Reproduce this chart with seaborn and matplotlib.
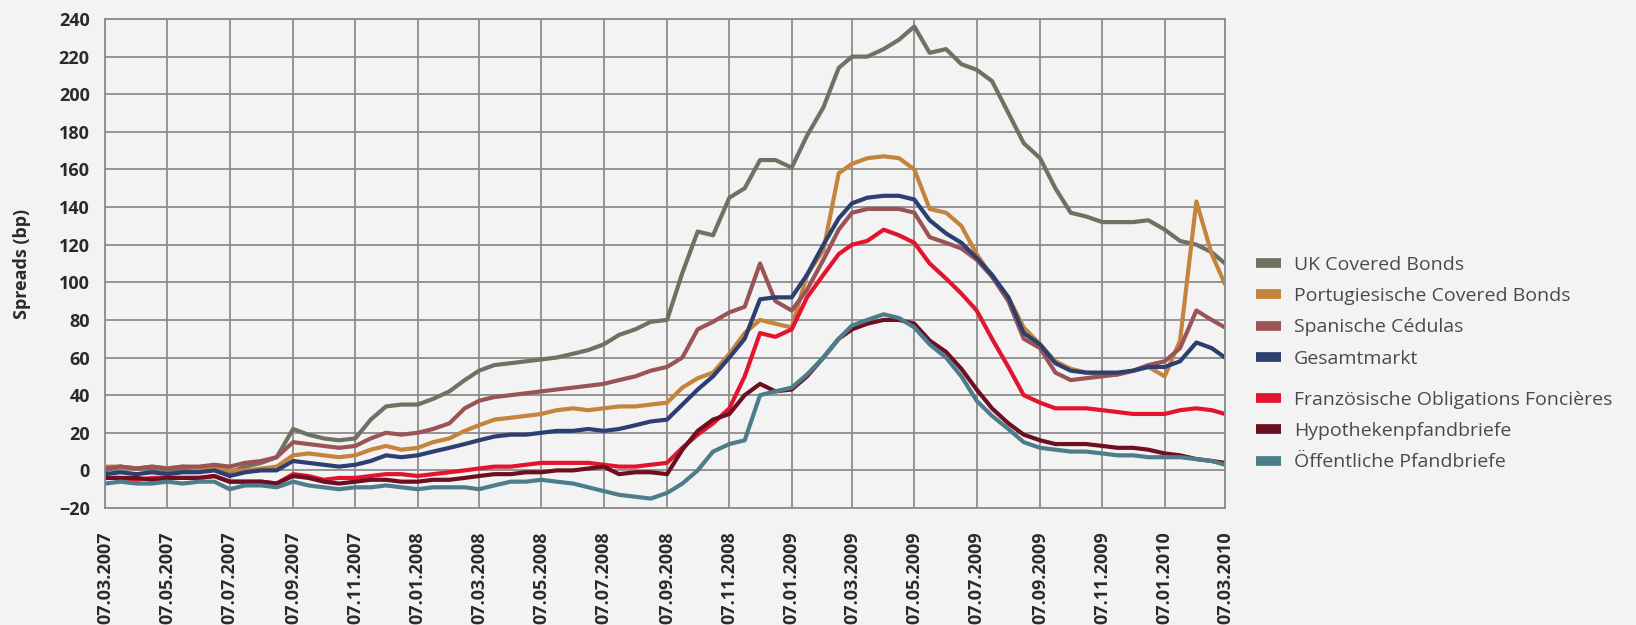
import pandas as pd
import matplotlib
matplotlib.use("Agg")
import matplotlib.pyplot as plt
import matplotlib.dates as mdates
from matplotlib.lines import Line2D
import seaborn as sns

# readings on the 7th and 22nd of each month, 07.03.2007 .. 07.03.2010
month_starts = pd.date_range("2007-03-01", "2010-03-01", freq="MS")
dates = [d + pd.Timedelta(days=k) for d in month_starts for k in (6, 21)][:-1]

uk = [0, 2, 1, 1, 0, 1, 0, 1, -1, 2, 4, 7,
      22, 19, 17, 16, 17, 27, 34, 35, 35, 38, 42, 48,
      53, 56, 57, 58, 59, 60, 62, 64, 67, 72, 75, 79,
      80, 105, 127, 125, 145, 150, 165, 165, 161, 178, 193, 214,
      220, 220, 224, 229, 236, 222, 224, 216, 213, 207, 190, 174,
      166, 150, 137, 135, 132, 132, 132, 133, 128, 122, 120, 116,
      110]
portugal = [2, 2, 1, 2, 1, 2, 1, 2, 0, 0, 1, 2,
            8, 9, 8, 7, 8, 11, 13, 11, 12, 15, 17, 21,
            24, 27, 28, 29, 30, 32, 33, 32, 33, 34, 34, 35,
            36, 44, 49, 52, 62, 73, 80, 78, 76, 104, 117, 158,
            163, 166, 167, 166, 160, 139, 137, 130, 115, 103, 92, 76,
            67, 58, 54, 52, 51, 51, 53, 55, 50, 69, 143, 115,
            99]
spain = [1, 2, 1, 2, 1, 2, 2, 3, 2, 4, 5, 7,
         15, 14, 13, 12, 13, 17, 20, 19, 20, 22, 25, 33,
         37, 39, 40, 41, 42, 43, 44, 45, 46, 48, 50, 53,
         55, 60, 75, 79, 84, 87, 110, 90, 85, 96, 112, 128,
         137, 139, 139, 139, 137, 124, 121, 118, 112, 103, 90, 70,
         65, 52, 48, 49, 50, 51, 53, 56, 58, 65, 85, 80,
         76]
total = [-2, -1, -2, -1, -2, -1, -1, 0, -3, -1, 0, 0,
         5, 4, 3, 2, 3, 5, 8, 7, 8, 10, 12, 14,
         16, 18, 19, 19, 20, 21, 21, 22, 21, 22, 24, 26,
         27, 35, 43, 50, 60, 70, 91, 92, 92, 104, 120, 134,
         142, 145, 146, 146, 144, 133, 126, 121, 113, 104, 92, 73,
         67, 57, 53, 52, 52, 52, 53, 55, 55, 58, 68, 65,
         60]
france = [-4, -4, -5, -4, -4, -4, -4, -3, -6, -6, -6, -7,
          -2, -3, -5, -4, -4, -3, -2, -2, -3, -2, -1, 0,
          1, 2, 2, 3, 4, 4, 4, 4, 3, 2, 2, 3,
          4, 12, 19, 25, 33, 50, 73, 71, 75, 92, 104, 115,
          120, 122, 128, 125, 121, 110, 102, 94, 85, 70, 55, 40,
          36, 33, 33, 33, 32, 31, 30, 30, 30, 32, 33, 32,
          30]
mortgage = [-4, -4, -4, -5, -4, -4, -4, -3, -6, -6, -6, -7,
            -3, -4, -6, -7, -6, -5, -5, -6, -6, -5, -5, -4,
            -3, -2, -2, -1, -1, 0, 0, 1, 2, -2, -1, -1,
            -2, 11, 21, 27, 30, 40, 46, 42, 43, 50, 60, 70,
            75, 78, 80, 80, 78, 69, 63, 54, 43, 33, 25, 19,
            16, 14, 14, 14, 13, 12, 12, 11, 9, 8, 6, 5,
            4]
public = [-7, -6, -7, -7, -6, -7, -6, -6, -10, -8, -8, -9,
          -6, -8, -9, -10, -9, -9, -8, -9, -10, -9, -9, -9,
          -10, -8, -6, -6, -5, -6, -7, -9, -11, -13, -14, -15,
          -12, -7, 0, 10, 14, 16, 40, 42, 44, 51, 60, 70,
          77, 80, 83, 81, 76, 67, 60, 50, 37, 29, 22, 15,
          12, 11, 10, 10, 9, 8, 8, 7, 7, 7, 6, 5,
          3]

names = ["UK Covered Bonds", "Portugiesische Covered Bonds", "Spanische Cédulas",
         "Gesamtmarkt", "Französische Obligations Foncières",
         "Hypothekenpfandbriefe", "Öffentliche Pfandbriefe"]
series = [uk, portugal, spain, total, france, mortgage, public]
colors = ["#6e7262", "#c4843e", "#9a5456", "#2c3f70", "#e3142d", "#6d0f20", "#4d7d8a"]

df = pd.concat([pd.DataFrame({"date": dates, "spread": vals, "series": name})
                for name, vals in zip(names, series)], ignore_index=True)

bg = "#f3f3f3"
grid_c = "#8c8c8c"
sns.set_style("whitegrid")
plt.rcParams["font.family"] = ["Open Sans", "DejaVu Sans"]

fig = plt.figure(figsize=(16.36, 6.25), dpi=100, facecolor=bg)
ax = fig.add_axes([105 / 1636, 1 - 508 / 625, 1120 / 1636, 489 / 625])
ax.set_facecolor(bg)

sns.lineplot(data=df, x="date", y="spread", hue="series", hue_order=names,
             palette=colors, linewidth=3, legend=False, ax=ax)

ax.set_xlim(pd.Timestamp("2007-03-07"), pd.Timestamp("2010-03-07"))
ax.set_ylim(-20, 240)
ax.set_yticks(range(-20, 241, 20))
ax.xaxis.set_major_locator(mdates.MonthLocator(bymonth=range(1, 13, 2), bymonthday=7))
ax.xaxis.set_major_formatter(mdates.DateFormatter("%d.%m.%Y"))
ax.grid(True, color=grid_c, linewidth=1.3)
for sp in ax.spines.values():
    sp.set_color(grid_c)
    sp.set_linewidth(1.3)
ax.tick_params(axis="both", length=0, labelsize=13, labelcolor="#2a2a2a")
ax.tick_params(axis="y", pad=11)
ax.tick_params(axis="x", pad=17)
for lab in ax.get_xticklabels():
    lab.set_rotation(90)
    lab.set_fontweight("bold")
for lab in ax.get_yticklabels():
    lab.set_fontweight("bold")
ax.set_xlabel("")
ax.set_ylabel("Spreads (bp)", fontsize=13, fontweight="bold", color="#2a2a2a", labelpad=20)

# legend in two blocks with a small gap, as in the original
def add_legend(idx, top):
    handles = [Line2D([], [], color=colors[i], linewidth=7, solid_capstyle="butt") for i in idx]
    leg = fig.legend(handles, [names[i] for i in idx], loc="upper left",
                     bbox_to_anchor=(1256 / 1636, 1 - top / 625), bbox_transform=fig.transFigure,
                     frameon=False, fontsize=14, handlelength=1.3, handletextpad=0.65,
                     labelspacing=0.68, borderpad=0, borderaxespad=0)
    for t in leg.get_texts():
        t.set_color("#4a4a4a")
    return leg

add_legend([0, 1, 2, 3], 256)
add_legend([4, 5, 6], 391)

fig.savefig("out.png", dpi=100, facecolor=bg)
